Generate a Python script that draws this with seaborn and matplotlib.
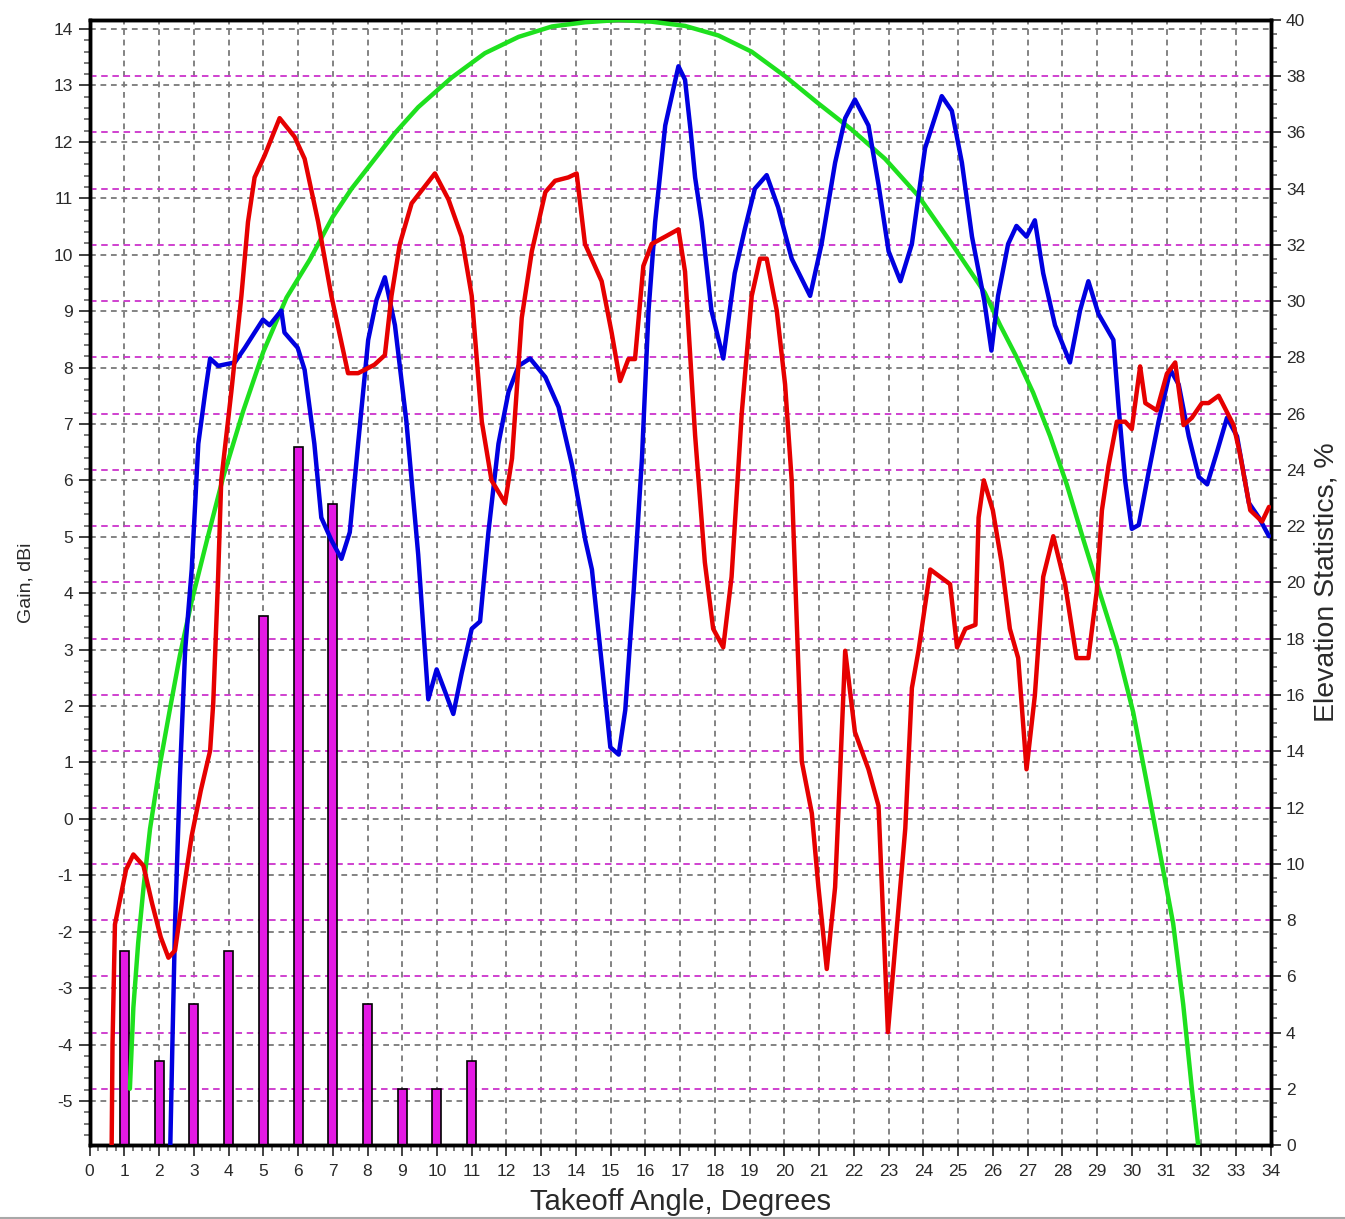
import numpy as np
import pandas as pd
import matplotlib
matplotlib.use("Agg")
import matplotlib.pyplot as plt
import seaborn as sns
from matplotlib.ticker import MultipleLocator
from matplotlib.lines import Line2D

# ---------------- data ----------------
red_x = [0.63, 0.66, 0.73, 0.88, 1.05, 1.26, 1.55, 1.8, 2.05, 2.27, 2.46, 2.7, 2.94, 3.2, 3.47, 3.56,
         3.70, 3.79, 4.08, 4.37, 4.56, 4.75, 5.04, 5.47, 5.9, 6.19, 6.58, 6.96, 7.44, 7.73, 8.2, 8.5,
         8.69, 8.93, 9.27, 9.94, 10.33, 10.71, 11.0, 11.29, 11.57, 11.96, 12.16, 12.44, 12.73, 13.12,
         13.40, 13.78, 14.02, 14.26, 14.74, 15.03, 15.27, 15.51, 15.70, 15.94, 16.18, 16.57, 16.95,
         17.14, 17.43, 17.71, 17.95, 18.24, 18.48, 18.77, 19.06, 19.30, 19.49, 19.78, 20.02, 20.21,
         20.40, 20.50, 20.79, 20.98, 21.22, 21.46, 21.60, 21.75, 22.03, 22.42, 22.71, 22.85, 22.98,
         23.19, 23.48, 23.67, 23.86, 24.20, 24.77, 24.97, 25.21, 25.50, 25.59, 25.74, 26.0, 26.25,
         26.49, 26.73, 26.97, 27.21, 27.45, 27.74, 28.08, 28.41, 28.75, 28.99, 29.14, 29.33, 29.57,
         29.81, 30.0, 30.24, 30.39, 30.72, 31.01, 31.25, 31.49, 31.73, 32.02, 32.21, 32.50, 32.93,
         33.12, 33.41, 33.75, 33.95]
red_gain = [-6.2, -4.0, -1.87, -1.42, -0.9, -0.63, -0.83, -1.5, -2.1, -2.46, -2.33, -1.3, -0.3, 0.5,
            1.21, 2.06, 4.29, 6.0, 7.57, 9.27, 10.58, 11.37, 11.76, 12.42, 12.09, 11.7, 10.58, 9.27,
            7.9, 7.9, 8.05, 8.22, 9.27, 10.19, 10.91, 11.44, 10.98, 10.32, 9.27, 7.04, 6.0, 5.6, 6.39,
            8.88, 10.06, 11.11, 11.31, 11.37, 11.44, 10.19, 9.53, 8.61, 7.76, 8.15, 8.15, 9.8, 10.19,
            10.32, 10.45, 9.7, 6.8, 4.55, 3.37, 3.04, 4.29, 7.17, 9.27, 9.93, 9.93, 9.01, 7.7, 6.0,
            2.72, 1.02, 0.1, -1.21, -2.66, -1.21, 0.76, 2.98, 1.54, 0.88, 0.23, -1.87, -3.78, -2.27,
            -0.17, 2.32, 2.98, 4.42, 4.16, 3.04, 3.37, 3.44, 5.34, 6.0, 5.47, 4.55, 3.37, 2.85, 0.88,
            2.19, 4.29, 5.01, 4.16, 2.85, 2.85, 4.03, 5.47, 6.26, 7.04, 7.04, 6.91, 8.02, 7.37, 7.24,
            7.89, 8.09, 6.98, 7.11, 7.37, 7.37, 7.5, 6.98, 6.45, 5.47, 5.27, 5.53]

blue_x = [2.31, 2.38, 2.46, 2.60, 2.75, 2.94, 3.13, 3.33, 3.47, 3.70, 4.18, 4.47, 4.75, 4.99, 5.18,
          5.52, 5.61, 5.99, 6.19, 6.47, 6.67, 6.96, 7.25, 7.49, 7.73, 8.02, 8.26, 8.5, 8.79, 9.12,
          9.46, 9.75, 9.99, 10.23, 10.47, 10.71, 11.0, 11.24, 11.48, 11.77, 12.06, 12.35, 12.68,
          13.12, 13.50, 13.89, 14.27, 14.46, 14.75, 14.99, 15.23, 15.42, 15.66, 15.90, 16.09, 16.28,
          16.57, 16.95, 17.14, 17.3, 17.43, 17.62, 17.90, 18.24, 18.57, 18.86, 19.15, 19.49, 19.82,
          20.21, 20.74, 21.07, 21.46, 21.75, 22.03, 22.42, 22.71, 23.0, 23.34, 23.67, 24.05, 24.53,
          24.82, 25.11, 25.40, 25.75, 25.96, 26.15, 26.44, 26.68, 26.97, 27.21, 27.45, 27.79, 28.22,
          28.51, 28.75, 29.04, 29.47, 29.62, 29.81, 30.0, 30.20, 30.48, 30.77, 31.11, 31.35, 31.64,
          31.93, 32.17, 32.46, 32.74, 33.03, 33.37, 33.66, 33.95]
blue_gain = [-6.2, -4.1, -1.87, 0.75, 2.98, 4.42, 6.65, 7.57, 8.16, 8.03, 8.09, 8.35, 8.62, 8.85,
             8.75, 9.01, 8.62, 8.35, 7.96, 6.65, 5.34, 4.94, 4.61, 5.08, 6.65, 8.49, 9.2, 9.6, 8.75,
             7.04, 4.68, 2.12, 2.65, 2.26, 1.86, 2.58, 3.37, 3.5, 5.08, 6.65, 7.57, 8.03, 8.16, 7.83,
             7.3, 6.26, 4.94, 4.42, 2.71, 1.27, 1.14, 1.93, 4.03, 6.39, 9.01, 10.58, 12.29, 13.34,
             13.1, 12.2, 11.37, 10.58, 9.01, 8.16, 9.67, 10.45, 11.17, 11.41, 10.84, 9.93, 9.27,
             10.19, 11.63, 12.42, 12.75, 12.29, 11.24, 10.06, 9.53, 10.19, 11.89, 12.81, 12.55,
             11.63, 10.32, 9.2, 8.3, 9.27, 10.19, 10.51, 10.32, 10.61, 9.67, 8.75, 8.09, 9.01, 9.53,
             8.95, 8.49, 7.3, 5.99, 5.14, 5.21, 6.13, 7.04, 7.96, 7.7, 6.78, 6.06, 5.93, 6.52, 7.11,
             6.78, 5.6, 5.34, 5.01]

green_x = [1.16, 1.26, 1.40, 1.55, 1.74, 2.03, 2.31, 2.60, 2.94, 3.37, 3.85, 4.42, 5.0, 5.67, 6.34,
           7.0, 7.54, 8.79, 9.46, 10.42, 11.38, 12.35, 13.31, 14.27, 15.23, 16.18, 17.14, 18.1,
           19.06, 20.02, 20.98, 21.94, 22.9, 23.86, 24.82, 25.77, 26.21, 26.69, 27.16, 27.65, 28.13,
           28.6, 29.08, 29.57, 30.04, 30.43, 30.81, 31.19, 31.48, 31.72, 31.91]
green_pct = [2.0, 4.88, 7.2, 9.12, 11.24, 13.56, 15.48, 17.41, 19.34, 21.46, 23.77, 26.09, 28.2,
             30.13, 31.48, 33.0, 34.0, 35.98, 36.9, 37.95, 38.82, 39.4, 39.77, 39.92, 40.0,
             39.94, 39.79, 39.45, 38.87, 38.0, 37.03, 36.1, 35.06, 33.74, 32.04, 30.3, 29.15, 28.0,
             26.75, 25.2, 23.48, 21.55, 19.63, 17.7, 15.39, 12.89, 10.39, 7.88, 5.0, 2.11, 0.0]

bar_angle = [1, 2, 3, 4, 5, 6, 7, 8, 9, 10, 11]
bar_pct = [6.9, 3.0, 5.0, 6.9, 18.8, 24.8, 22.8, 5.0, 2.0, 2.0, 3.0]

x_ticks = list(range(0, 35))
gain_ticks = list(range(-5, 15))
pct_ticks = list(range(0, 41, 2))

# ---------------- style ----------------
sns.set_theme(style="white")
plt.rcParams["font.family"] = ["Liberation Sans", "DejaVu Sans"]
plt.rcParams["axes.linewidth"] = 2.5
plt.rcParams["axes.unicode_minus"] = False

RED = "#e60000"
BLUE = "#0000e0"
GREEN = "#1ee01e"
MAG = "#e41ae4"
GRAY = "#7a7a7a"
TXT = "#2a2a2a"

fig = plt.figure(figsize=(13.45, 12.19), dpi=100)
pos = [0.0666, 0.0607, 0.8782, 0.9229]

ax = fig.add_axes(pos)                 # gain axis: grid + left ticks
ax_pct = ax.twinx()                    # percent axis: bars + green curve
ax_top = fig.add_axes(pos, sharex=ax, sharey=ax)   # gain lines on top
ax_top.patch.set_alpha(0)
ax_top.set_axis_off()

# percent axis contents
bars_df = pd.DataFrame({"angle": bar_angle, "pct": bar_pct})
sns.barplot(data=bars_df, x="angle", y="pct", native_scale=True, width=0.26,
            color=MAG, saturation=1, edgecolor="black", linewidth=1.2,
            errorbar=None, ax=ax_pct, zorder=2)
green_df = pd.DataFrame({"angle": green_x, "pct": green_pct})
sns.lineplot(data=green_df, x="angle", y="pct", color=GREEN, lw=3.2,
             estimator=None, sort=False, ax=ax_pct, zorder=3)

# gain curves
blue_df = pd.DataFrame({"angle": blue_x, "gain": blue_gain})
red_df = pd.DataFrame({"angle": red_x, "gain": red_gain})
sns.lineplot(data=blue_df, x="angle", y="gain", color=BLUE, lw=3.2,
             estimator=None, sort=False, ax=ax_top, zorder=3)
sns.lineplot(data=red_df, x="angle", y="gain", color=RED, lw=3.2,
             estimator=None, sort=False, ax=ax_top, zorder=4)

# limits
ax.set_xlim(0, 34)
ax.set_ylim(-5.78, 14.16)
ax_pct.set_ylim(0, 40)
ax_pct.set_xlim(0, 34)

# grids
ax.set_axisbelow(True)
ax.grid(True, axis="both", color=GRAY, lw=1.3, linestyle=(0, (3.2, 2.6)))
ax_pct.set_axisbelow(True)
ax_pct.grid(True, axis="y", color="#cc33cc", lw=1.3, linestyle=(0, (3.6, 2.6)))
ax_pct.grid(False, axis="x")

# ticks
ax.set_xticks(x_ticks)
ax.set_yticks(gain_ticks)
ax.xaxis.set_minor_locator(MultipleLocator(0.25))
ax.yaxis.set_minor_locator(MultipleLocator(0.2))
ax_pct.set_yticks(pct_ticks)
ax_pct.yaxis.set_minor_locator(MultipleLocator(0.5))

ax.tick_params(axis="both", which="major", direction="out", length=8, width=1.3,
               color="#333333", labelsize=12.5, labelcolor=TXT, pad=4,
               bottom=True, left=True, top=False, right=False)
ax.tick_params(axis="x", which="major", pad=6)
ax.tick_params(axis="both", which="minor", direction="out", length=4.5, width=1.1,
               color="#555555", bottom=True, left=True, top=False, right=False)
ax_pct.tick_params(axis="y", which="major", direction="out", length=7, width=1.3,
                   color="#333333", labelsize=12.5, labelcolor=TXT, pad=4, right=True)
ax_pct.tick_params(axis="y", which="minor", direction="out", length=4, width=1.1,
                   color="#555555", right=True)
ax_pct.tick_params(axis="x", which="both", bottom=False, labelbottom=False)

for s in ax.spines.values():
    s.set_color("black")
    s.set_linewidth(2.5)
for name, s in ax_pct.spines.items():
    s.set_color("black")
    s.set_linewidth(2.5)

# labels
ax.set_xlabel("Takeoff Angle, Degrees", fontsize=21, color=TXT, labelpad=6)
ax.set_ylabel("Gain, dBi", fontsize=14, color=TXT, labelpad=14)
ax_pct.set_ylabel("Elevation Statistics, %", fontsize=20.5, color=TXT, labelpad=6)

# thin screenshot border at the bottom
fig.add_artist(Line2D([0, 1], [0.0012, 0.0012], transform=fig.transFigure,
                      color="#a8a8a8", lw=1.5))

fig.savefig("out.png", dpi=100, facecolor="white")
